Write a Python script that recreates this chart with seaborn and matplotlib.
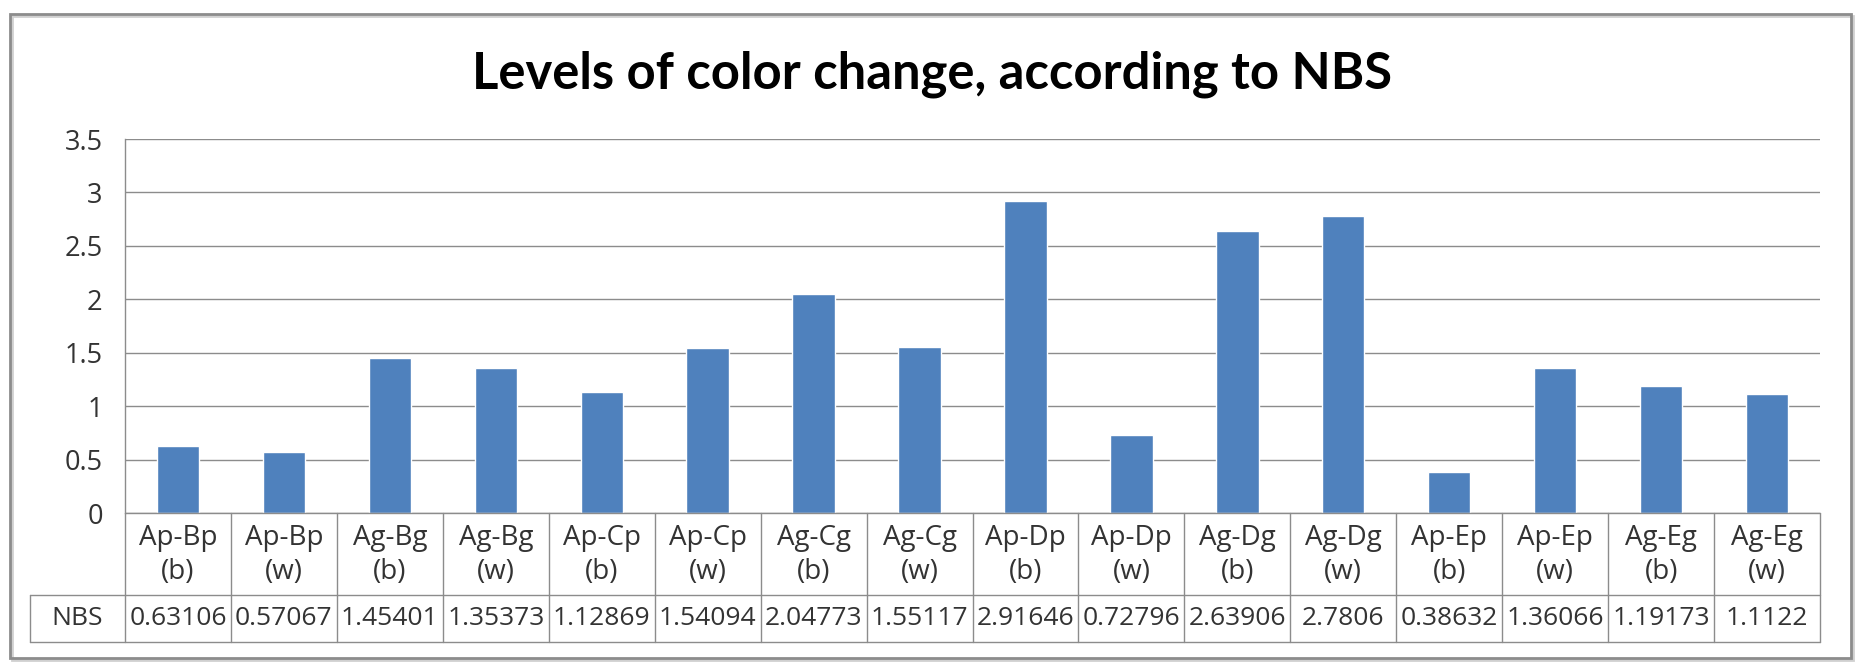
import numpy as np
import pandas as pd
import seaborn as sns
import matplotlib.pyplot as plt
from matplotlib.patches import Rectangle

pairs = ["Ap-Bp", "Ap-Bp", "Ag-Bg", "Ag-Bg", "Ap-Cp", "Ap-Cp", "Ag-Cg", "Ag-Cg",
         "Ap-Dp", "Ap-Dp", "Ag-Dg", "Ag-Dg", "Ap-Ep", "Ap-Ep", "Ag-Eg", "Ag-Eg"]
sides = ["(b)", "(w)"] * 8
nbs = [0.63106, 0.57067, 1.45401, 1.35373, 1.12869, 1.54094, 2.04773, 1.55117,
       2.91646, 0.72796, 2.63906, 2.7806, 0.38632, 1.36066, 1.19173, 1.1122]
nbs_text = ["0.63106", "0.57067", "1.45401", "1.35373", "1.12869", "1.54094", "2.04773", "1.55117",
            "2.91646", "0.72796", "2.63906", "2.7806", "0.38632", "1.36066", "1.19173", "1.1122"]
yticks = [0, 0.5, 1, 1.5, 2, 2.5, 3, 3.5]

sns.set_style("white")
plt.rcParams['font.family'] = ['Open Sans', 'DejaVu Sans']

df = pd.DataFrame({"cat": [f"{p}\n{s}{i}" for i, (p, s) in enumerate(zip(pairs, sides))], "NBS": nbs})

fig = plt.figure(figsize=(18.65, 6.70), dpi=100)
ax = fig.add_axes([0.0670, 0.2343, 0.9089, 0.5582])
sns.barplot(data=df, x="cat", y="NBS", color="#4F81BD", width=0.4, saturation=1, ax=ax)

grid_c = "#8c8c8c"
txt_c = "#333333"
ax.set_ylim(0, 3.5)
ax.set_xlim(-0.5, len(nbs) - 0.5)
ax.set_yticks(yticks)
ax.set_yticklabels([f"{t:g}" for t in yticks], fontsize=19.5, color=txt_c)
ax.yaxis.grid(True, color=grid_c, lw=1)
ax.set_axisbelow(True)
ax.tick_params(axis="y", length=10, color=grid_c, width=1, pad=6)
ax.set_xticks([])
ax.set_xlabel("")
ax.set_ylabel("")
for s in ["top", "right", "bottom"]:
    ax.spines[s].set_visible(False)
ax.spines["left"].set_color(grid_c)
ax.spines["left"].set_linewidth(1)

# data table under the axis
trans = ax.get_xaxis_transform()
r1, r2 = -0.219, -0.345
n = len(nbs)
for i in range(n + 1):
    ax.plot([i - 0.5, i - 0.5], [0, r2], color=grid_c, lw=1, transform=trans, clip_on=False)
ax.plot([-0.5, n - 0.5], [0, 0], color=grid_c, lw=1, transform=trans, clip_on=False)
lab_left = -0.5 - 95 / (1695 / n)
ax.plot([lab_left, n - 0.5], [r1, r1], color=grid_c, lw=1, transform=trans, clip_on=False)
ax.plot([lab_left, n - 0.5], [r2, r2], color=grid_c, lw=1, transform=trans, clip_on=False)
ax.plot([lab_left, lab_left], [r1, r2], color=grid_c, lw=1, transform=trans, clip_on=False)
for i in range(n):
    ax.text(i, -0.066, pairs[i], ha="center", va="center", fontsize=20, color=txt_c, transform=trans)
    ax.text(i, -0.158, sides[i], ha="center", va="center", fontsize=20, color=txt_c, transform=trans)
    ax.text(i, -0.282, nbs_text[i], ha="center", va="center", fontsize=19, color=txt_c, transform=trans)
ax.text((lab_left - 0.5) / 2, -0.282, "NBS", ha="center", va="center", fontsize=19, color=txt_c, transform=trans)

fig.text(0.5, 0.889, "Levels of color change, according to NBS", ha="center", va="center",
         fontsize=36.5, fontweight="bold", color="black", family=["Lato", "DejaVu Sans"])

# chart frame with a light shadow
fig.patches.append(Rectangle((12 / 1865, 10 / 670), 1841 / 1865, 644 / 670, transform=fig.transFigure,
                             fill=False, edgecolor="#d0d0d0", lw=2))
fig.patches.append(Rectangle((10 / 1865, 12 / 670), 1841 / 1865, 644 / 670, transform=fig.transFigure,
                             fill=False, edgecolor="#8c8c8c", lw=2))

fig.savefig("out.png", dpi=100)
